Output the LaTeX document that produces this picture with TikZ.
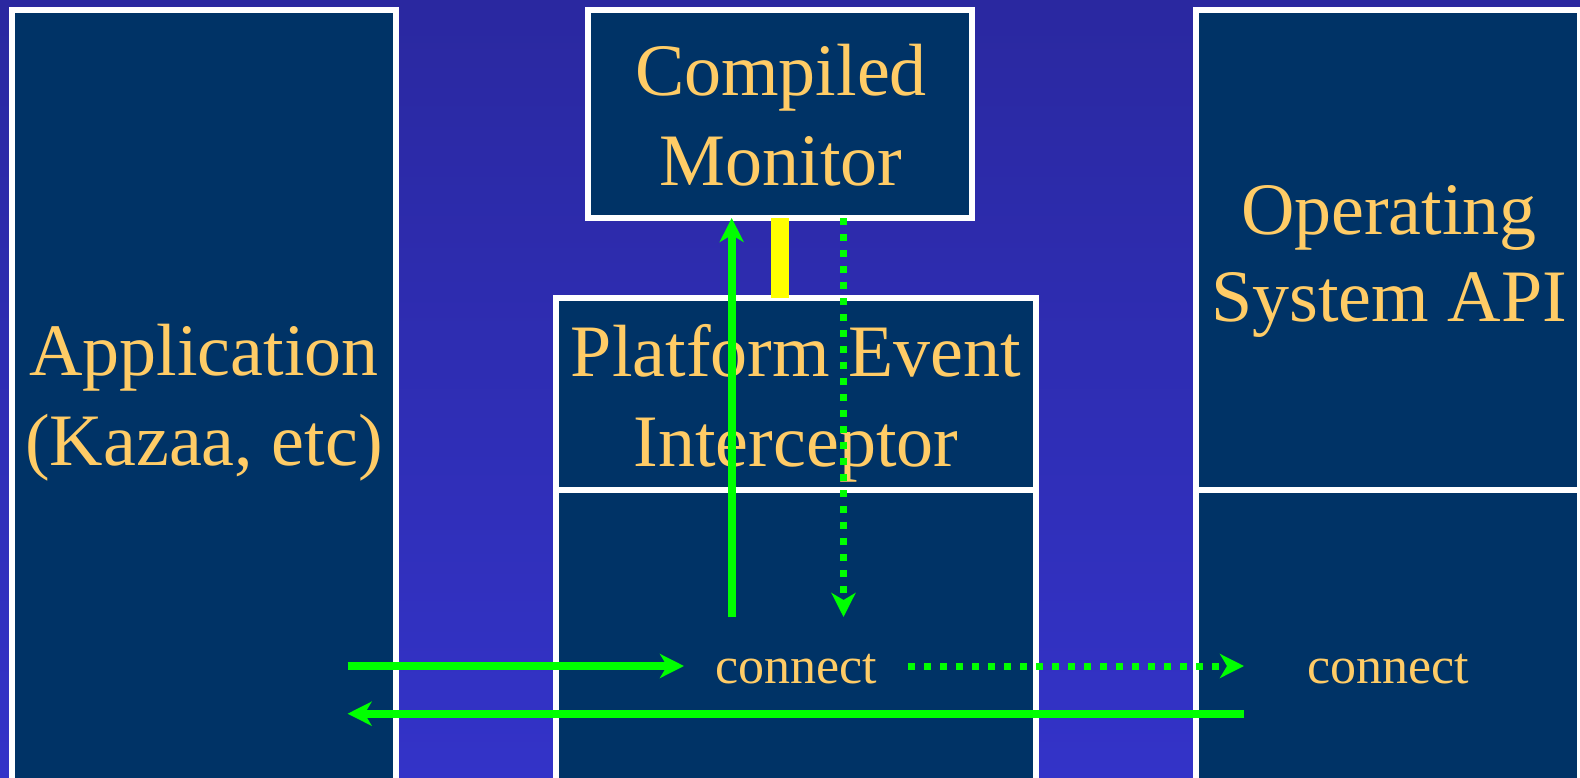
\documentclass[tikz,border=0pt]{standalone}
\usepackage{fontspec}
\setmainfont{Liberation Serif}
\usetikzlibrary{arrows.meta}
\definecolor{bgtop}{RGB}{42,40,160}
\definecolor{bgbot}{RGB}{51,51,200}
\definecolor{boxfill}{RGB}{0,51,102}
\definecolor{txt}{RGB}{255,204,102}
\definecolor{grn}{RGB}{0,255,0}
\definecolor{ylw}{RGB}{255,255,0}
\begin{document}
\begin{tikzpicture}[x=1pt,y=-1pt,
  box/.style={draw=white, line width=6pt, fill=boxfill, rectangle, anchor=north west, outer sep=0pt, inner sep=0pt},
  big/.style={text=txt, font=\fontsize{74}{90}\selectfont, inner sep=0pt, anchor=base},
  small/.style={text=txt, font=\fontsize{52}{60}\selectfont, inner sep=0pt, anchor=base},
  tip/.style={-{Stealth[length=24pt,width=24pt,inset=7pt]}},
  flow/.style={draw=grn, line width=8pt, tip},
  flowdot/.style={draw=grn, line width=7pt, dash pattern=on 7pt off 9pt, tip},
]
\useasboundingbox (0,0) rectangle (1580,777);
\clip (0,0) rectangle (1580,777);
\shade[top color=bgtop,bottom color=bgbot] (0,0) rectangle (1580,777);

% boxes
\node[box, minimum width=384pt, minimum height=790pt] (app) at (12,10) {};
\node[box, minimum width=384pt, minimum height=208.3pt] (mon) at (588,9.7) {};
\node[box, minimum width=480pt, minimum height=191.7pt] (peiA) at (556,298) {};
\node[box, minimum width=480pt, minimum height=310pt] (peiB) at (556,489.7) {};
\node[box, minimum width=384pt, minimum height=479.7pt] (osA) at (1196,10) {};
\node[box, minimum width=384pt, minimum height=310pt] (osB) at (1196,489.7) {};

% texts
\node[big] (t1) at (204,375.7) {Application};
\node[big] (t2) at (204,465.7) {(Kazaa, etc)};
\node[big] (t3) at (781,95.7) {Compiled};
\node[big] (t4) at (781,185.7) {Monitor};
\node[big] (t5) at (796,376.7) {Platform Event};
\node[big] (t6) at (796,466.7) {Interceptor};
\node[big] (t7) at (1389,234) {Operating};
\node[big] (t8) at (1389,321) {System API};
\node[small] (c1) at (796.5,683) {connect};
\node[small] (c2) at (1388.5,683) {connect};

% yellow link
\draw[ylw, line width=18.7pt] (mon.south) -- (mon.south |- peiA.north);

% vertical arrows
\coordinate (upS) at (731.7,617);
\draw[flow] (upS) -- (upS |- mon.south);
\coordinate (dnE) at (843.5,617);
\draw[flowdot] (dnE |- mon.south) -- (dnE);

% horizontal arrows
\coordinate (a1) at (347.6,666);
\coordinate (a2) at (684,666);
\draw[flow] (a1) -- (a2);
\coordinate (d1) at (908,666);
\coordinate (d2) at (1244,666);
\draw[flowdot] (d1) -- (d2);
\coordinate (r1) at (1244,713.7);
\coordinate (r2) at (347.6,713.7);
\draw[flow] (r1) -- (r2);
\end{tikzpicture}
\end{document}
